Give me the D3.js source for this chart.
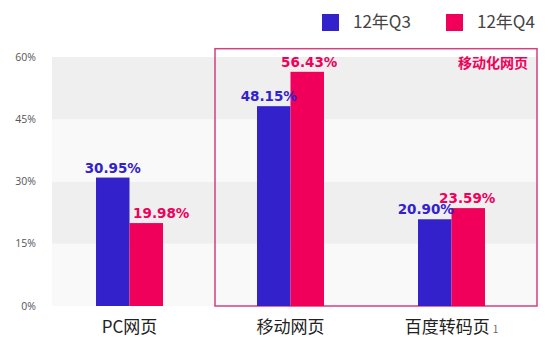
<!DOCTYPE html>
<html>
<head>
<meta charset="utf-8">
<script src="https://cdn.jsdelivr.net/npm/d3@7"></script>
<style>
  body { margin: 0; background: #fff; }
  svg { display: block; }
</style>
</head>
<body>
<svg id="chart"></svg>
<script>
const categories = ['PC网页', '移动网页', '百度转码页'];
const categoryNotes = ['', '', '1'];
const seriesNames = ['12年Q3', '12年Q4'];
const q3Values = [30.95, 48.15, 20.90];
const q4Values = [19.98, 56.43, 23.59];
const yTicks = [0, 15, 30, 45, 60];
const highlightLabel = '移动化网页';

const width = 550, height = 347;
const colors = ['#3322cc', '#f0005a'];
// small nudges so value labels don't collide (as in the original)
const labelNudge = [[0, 15], [-5, 2], [-9, -1]];

const svg = d3.select('#chart').attr('width', width).attr('height', height);

const x = d3.scaleBand().domain(categories).range([49, 532]).paddingInner(0.584).paddingOuter(0.292);
const xs = d3.scaleBand().domain(seriesNames).range([0, x.bandwidth()]);
const y = d3.scaleLinear().domain([0, 60]).range([306, 57]);

// striped background bands
const bands = d3.pairs(yTicks);
svg.append('g')
  .selectAll('rect')
  .data(bands)
  .join('rect')
    .attr('x', 52)
    .attr('width', 537 - 52)
    .attr('y', d => y(d[1]))
    .attr('height', d => y(d[0]) - y(d[1]))
    .attr('fill', (d, i) => i % 2 ? '#efefef' : '#f9f9f9');

// y tick labels
svg.append('g')
  .selectAll('text')
  .data(yTicks)
  .join('text')
    .attr('x', 36)
    .attr('y', d => y(d))
    .attr('dy', '0.35em')
    .attr('text-anchor', 'end')
    .attr('font-family', '"Open Sans", sans-serif')
    .attr('font-size', 10.5)
    .attr('fill', '#555')
    .text(d => d + '%');

// highlight box around mobile categories
const boxLeft = x(categories[1]) - x.step() * x.paddingInner() / 2 + 5;
const boxRight = 537;
svg.append('rect')
  .attr('x', boxLeft)
  .attr('y', y(62))
  .attr('width', boxRight - boxLeft)
  .attr('height', y(0) - y(62))
  .attr('fill', 'none')
  .attr('stroke', '#d2407f')
  .attr('stroke-width', 1.5);

svg.append('text')
  .attr('x', 528)
  .attr('y', y(58.5))
  .attr('dy', '0.35em')
  .attr('text-anchor', 'end')
  .attr('font-family', '"Noto Sans CJK SC", sans-serif')
  .attr('font-weight', 'bold')
  .attr('font-size', 14)
  .attr('fill', colors[1])
  .text(highlightLabel);

// bars
const rows = categories.map((c, i) => ({ cat: c, i, vals: [q3Values[i], q4Values[i]] }));
const groups = svg.append('g')
  .selectAll('g')
  .data(rows)
  .join('g')
    .attr('transform', d => `translate(${x(d.cat)},0)`);

groups.selectAll('rect')
  .data(d => d.vals.map((v, s) => ({ v, s, i: d.i })))
  .join('rect')
    .attr('x', d => xs(seriesNames[d.s]))
    .attr('width', xs.bandwidth())
    .attr('y', d => y(d.v))
    .attr('height', d => y(0) - y(d.v))
    .attr('fill', d => colors[d.s]);

groups.selectAll('text')
  .data(d => d.vals.map((v, s) => ({ v, s, i: d.i })))
  .join('text')
    .attr('x', d => xs(seriesNames[d.s]) + xs.bandwidth() / 2 + labelNudge[d.i][d.s])
    .attr('y', d => y(d.v) - 5)
    .attr('text-anchor', 'middle')
    .attr('font-family', '"DejaVu Sans", sans-serif')
    .attr('font-weight', 'bold')
    .attr('font-size', 13.5)
    .attr('fill', d => colors[d.s])
    .text(d => d.v.toFixed(2) + '%');

// category labels
const catText = svg.append('g')
  .selectAll('text')
  .data(categories)
  .join('text')
    .attr('x', d => x(d) + x.bandwidth() / 2)
    .attr('y', 327)
    .attr('dy', '0.35em')
    .attr('text-anchor', 'middle')
    .attr('font-family', '"Noto Sans CJK SC", sans-serif')
    .attr('font-size', 17)
    .attr('fill', '#222');
catText.append('tspan').text(d => d);
catText.append('tspan')
  .attr('dx', 3)
  .attr('font-size', 10)
  .attr('fill', '#666')
  .text((d, i) => categoryNotes[i]);

// legend
const legend = svg.append('g')
  .selectAll('g')
  .data(seriesNames)
  .join('g')
    .attr('transform', (d, i) => `translate(${322 + i * 124},14)`);
legend.append('rect')
  .attr('width', 17)
  .attr('height', 17)
  .attr('fill', (d, i) => colors[i]);
legend.append('text')
  .attr('x', 31)
  .attr('y', 8.5)
  .attr('dy', '0.35em')
  .attr('font-family', '"Noto Sans CJK SC", sans-serif')
  .attr('font-size', 17)
  .attr('fill', '#444')
  .text(d => d);
</script>
</body>
</html>
